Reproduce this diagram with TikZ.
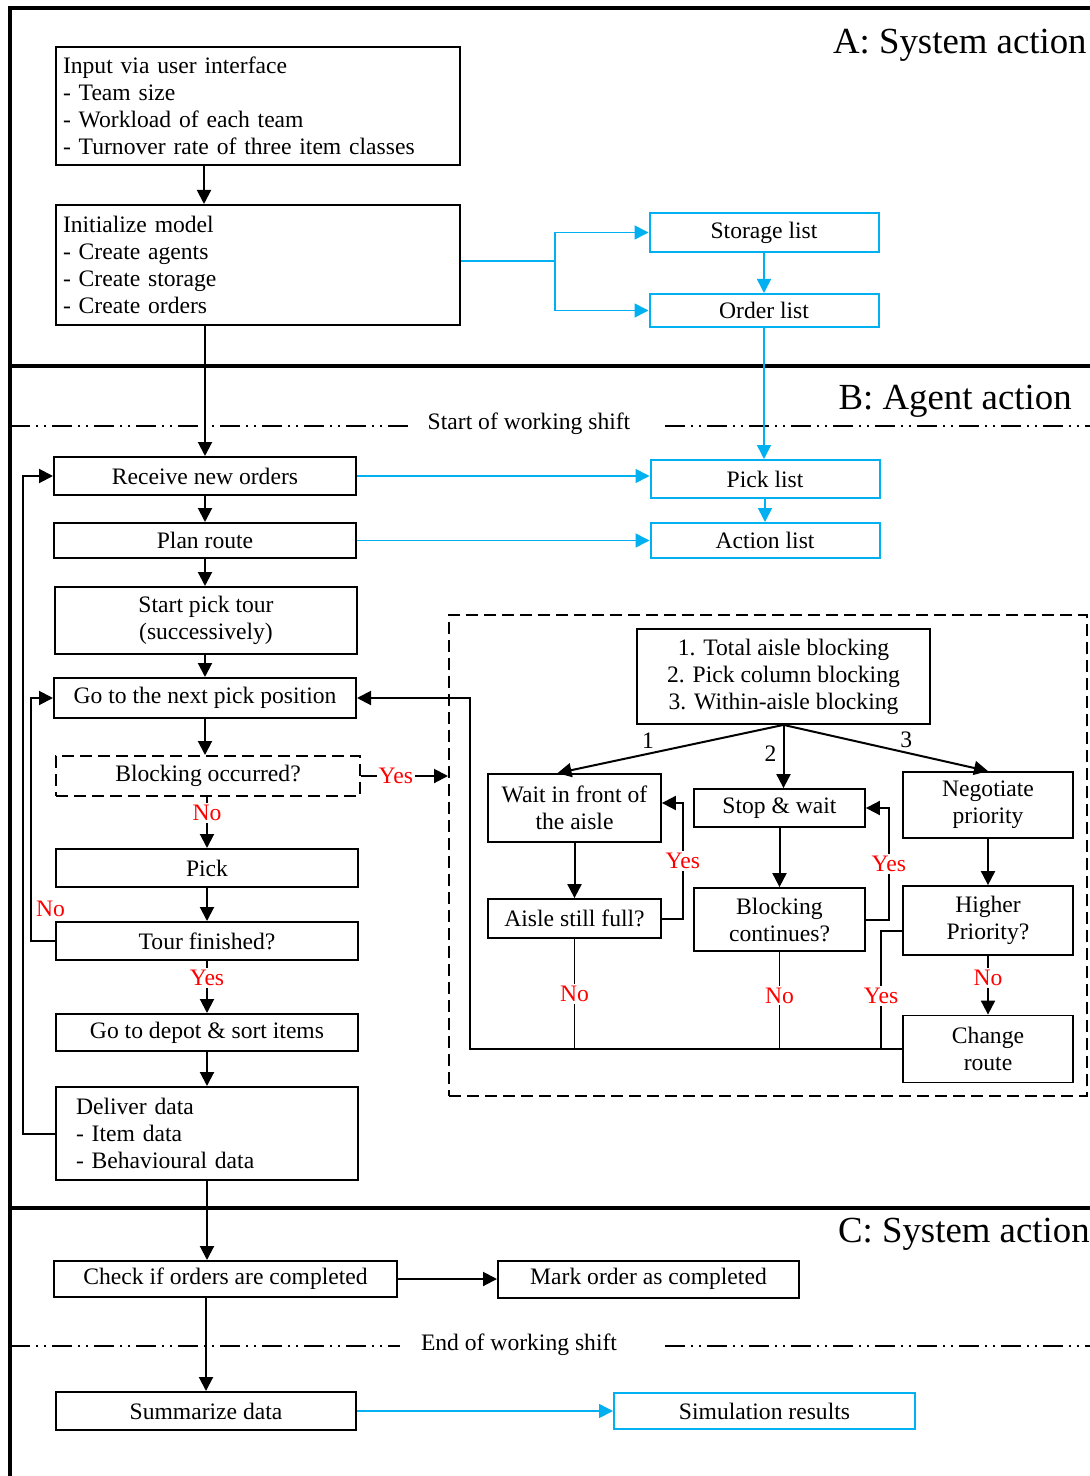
\documentclass[tikz,border=0pt]{standalone}
\usepackage{fontspec}
\setmainfont{Liberation Serif}
\usetikzlibrary{arrows.meta}
\definecolor{skyblue}{RGB}{0,176,240}
\definecolor{labred}{RGB}{255,0,0}

\begin{document}
\begin{tikzpicture}[
    x=0.5pt, y=-0.5pt,
    font=\fontsize{11.8}{13.5}\selectfont,
    box/.style={
        rectangle, draw=black, line width=1pt,
        fill=white, text=black,
        align=center, inner sep=2pt,
    },
    listbox/.style={box, draw=skyblue, minimum width=114.5pt},
    leftcol/.style={box, minimum width=151pt},
    subbox/.style={box, line width=0.9pt},
    arrow/.style={
        -{Triangle[length=7pt,width=7pt]}, line width=1pt, black,
    },
    bluearrow/.style={arrow, skyblue, line width=0.8pt},
    conn/.style={line width=0.9pt, black},
    answer/.style={text=labred, fill=white, inner sep=1pt},
    num/.style={inner sep=1pt},
    frame/.style={line width=2pt, black},
    shiftline/.style={
        line width=0.75pt,
        dash pattern=on 10pt off 3pt on 1pt off 3pt on 1pt off 3pt,
    },
    hdr/.style={font=\fontsize{18.4}{20}\selectfont, anchor=base east, inner sep=0pt},
]
\useasboundingbox (0,0) rectangle (1090,1476);

% frame and section separators
\draw[frame] (10,1476) -- (10,8) -- (1090,8);
\draw[frame] (10,366) -- (1090,366);
\draw[frame] (10,1208) -- (1090,1208);

\node[hdr] (hdrA) at (1087,54) {A: System action};
\node[hdr] (hdrB) at (1072,409) {B: Agent action};
\node[hdr] (hdrC) at (1090,1242) {C: System action};

% working shift lines
\draw[shiftline] (10,426) -- (408,426);
\draw[shiftline] (665,426) -- (1090,426);
\node (shiftstart) at (529,424) {Start of working shift};
\draw[shiftline] (10,1346) -- (400,1346);
\draw[shiftline] (665,1346) -- (1090,1346);
\node (shiftend) at (519,1345) {End of working shift};

% blocking sub-process frame
\node[draw, line width=1pt, dash pattern=on 6pt off 3pt,
      minimum width=319pt, minimum height=240.5pt] (region) at (768,855.5) {};

% A: system action
\node[box, align=left, text width=195pt, inner xsep=3.5pt, minimum height=59pt] (input) at (258,106)
    {Input via user interface\\- Team size\\- Workload of each team\\- Turnover rate of three item classes};
\node[box, align=left, text width=195pt, inner xsep=3.5pt, minimum height=60pt] (init) at (258,265)
    {Initialize model\\- Create agents\\- Create storage\\- Create orders};
\node[listbox, minimum height=19.5pt] (storage) at (764,232.5) {Storage list};
\node[listbox, minimum height=16.5pt] (order) at (764,310.5) {Order list};

% B: agent action
\node[leftcol, minimum height=19pt] (receive) at (205,476) {Receive new orders};
\node[leftcol, minimum height=17.5pt] (plan) at (205,540.5) {Plan route};
\node[leftcol, minimum height=33.5pt] (start) at (206,620.5) {Start pick tour\\(successively)};
\node[leftcol, minimum height=20pt] (goto) at (205,698) {Go to the next pick position};
\node[leftcol, minimum width=152pt, minimum height=20pt, dash pattern=on 6pt off 3pt] (blkocc) at (208,776) {Blocking occurred?};
\node[leftcol, minimum height=19pt] (pick) at (207,868) {Pick};
\node[leftcol, minimum height=19pt] (tour) at (207,941) {Tour finished?};
\node[leftcol, minimum height=18.5pt] (depot) at (207,1032.5) {Go to depot \& sort items};
\node[box, align=left, text width=131pt, inner xsep=10pt, minimum height=46.5pt] (deliver) at (207,1133.5)
    {Deliver data\\- Item data\\- Behavioural data};
\node[listbox, minimum height=19pt] (picklist) at (765,479) {Pick list};
\node[listbox, minimum height=17.5pt] (actlist) at (765,540.5) {Action list};

% blocking types
\node[subbox, minimum width=146.5pt, minimum height=47.5pt] (types) at (783.5,676.5)
    {1. Total aisle blocking\\2. Pick column blocking\\3. Within-aisle blocking};
\node[subbox, minimum width=86.5pt, minimum height=34pt] (wait) at (574.5,808) {Wait in front of\\the aisle};
\node[subbox, minimum width=85.5pt, minimum height=19pt] (stop) at (779.5,808) {Stop \& wait};
\node[subbox, minimum width=85pt, minimum height=33pt] (nego) at (988,805) {Negotiate\\priority};
\node[subbox, minimum width=86.5pt, minimum height=19.5pt] (full) at (574.5,918.5) {Aisle still full?};
\node[subbox, minimum width=85.5pt, minimum height=31.5pt] (cont) at (779.5,919.5) {Blocking\\continues?};
\node[subbox, minimum width=85pt, minimum height=34.5pt] (higher) at (988,920.5) {Higher\\Priority?};
\node[subbox, minimum width=85pt, minimum height=33.5pt] (change) at (988,1049) {Change\\route};
\coordinate (ret) at (470,1049);

% C: system action
\node[box, minimum width=171.5pt, minimum height=18pt] (check) at (225.5,1279) {Check if orders are completed};
\node[box, minimum width=150.5pt, minimum height=18.5pt] (mark) at (648.5,1279) {Mark order as completed};
\node[box, minimum width=150pt, minimum height=19pt] (summ) at (206,1411) {Summarize data};
\node[box, draw=skyblue, minimum width=150.5pt, minimum height=18pt] (simres) at (764.5,1411) {Simulation results};

% arrows in A
\draw[arrow] ([xshift=-27pt]input.south) -- ([xshift=-27pt]init.north);
\draw[arrow] (init.south -| receive.north) -- (receive.north);
\draw[bluearrow] ([yshift=2pt]init.east) -- ++(94,0) |- (storage.west);
\draw[bluearrow] ([yshift=2pt]init.east) -- ++(94,0) |- (order.west);
\draw[bluearrow] (storage) -- (order);
\draw[bluearrow] (order.south) -- (order.south |- picklist.north);

% arrows in B
\draw[bluearrow] (receive.east) -- (receive.east -| picklist.west);
\draw[bluearrow] (plan.east) -- (plan.east -| actlist.west);
\draw[bluearrow] (picklist) -- (actlist);
\draw[arrow] (receive) -- (plan);
\draw[arrow] (plan) -- (plan |- start.north);
\draw[arrow] (start.south -| goto) -- (goto.north);
\draw[arrow] (goto) -- (goto.south |- blkocc.north);
\draw[arrow] (blkocc.south -| pick.north) -- (pick.north) node[pos=0.32, answer] {No};
\draw[arrow] (pick) -- (tour);
\draw[arrow] (tour) -- (depot) node[pos=0.33, answer] {Yes};
\draw[arrow] (depot) -- (deliver);
\draw[arrow] (blkocc.east) -- (blkocc.east -| region.west) node[pos=0.4, answer] {Yes};
\draw[arrow] (tour.west) -- ++(-24,0) |- (goto.west)
    node[pos=0.066, right=1pt, text=labred, inner sep=1pt] {No};
\draw[arrow] (deliver.west) -- ++(-32,0) |- (receive.west);

% blocking handling
\draw[arrow] (types.south) -- ([xshift=-8.5pt]wait.north) node[pos=0.6, above=1pt, num] {1};
\draw[arrow] (types.south) -- (types.south |- stop.north) node[pos=0.45, left=2pt, num] {2};
\draw[arrow] (types.south) -- (nego.north) node[pos=0.6, above=1pt, num] {3};
\draw[arrow] (wait) -- (full);
\draw[arrow] (stop) -- (cont);
\draw[arrow] (nego) -- (higher);
\draw[arrow] (full.east) -- ++(21,0) |- ([yshift=2.5pt]wait.east) node[pos=0.25, answer] {Yes};
\draw[arrow] (cont.east) -- ++(23,0) |- (stop.east) node[pos=0.25, answer] {Yes};
\draw[arrow] (higher.south) -- (change.north) node[pos=0.38, answer] {No};
\draw[conn] ([yshift=-5.25pt]higher.west) -- ++(-21,0) coordinate (hy) -- (hy |- ret) node[pos=0.55, answer] {Yes};
\draw[conn] (full.south) -- (full.south |- ret) node[midway, answer] {No};
\draw[conn] (cont.south) -- (cont.south |- ret) node[pos=0.45, answer] {No};
\draw[arrow] (change.west) -- (ret) |- (goto.east);

% arrows in C
\draw[arrow] (deliver.south) -- (deliver.south |- check.north);
\draw[arrow] (check) -- (mark);
\draw[arrow] (check.south -| summ.north) -- (summ.north);
\draw[bluearrow] (summ) -- (simres);

\end{tikzpicture}
\end{document}
